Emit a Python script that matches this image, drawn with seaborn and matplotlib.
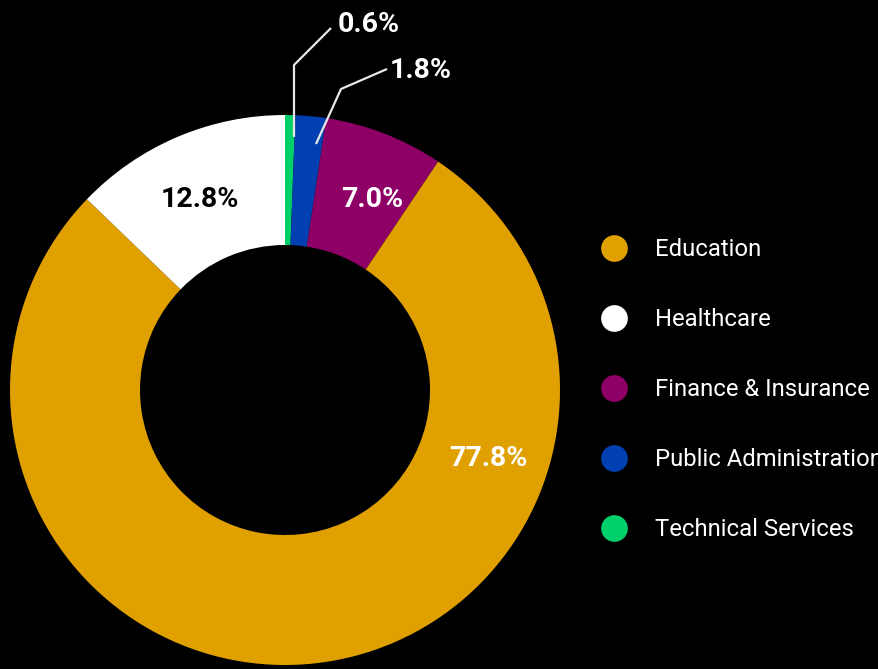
import matplotlib
matplotlib.use("Agg")
import matplotlib.pyplot as plt
import seaborn as sns

# Sector shares (%), listed in legend order
sectors = ["Education", "Healthcare", "Finance & Insurance",
           "Public Administration", "Technical Services"]
shares = [77.8, 12.8, 7.0, 1.8, 0.6]
palette = sns.color_palette(["#E0A000", "#FFFFFF", "#8F0066", "#0040B0", "#00D06C"])

sns.set_theme(style="dark", rc={"figure.facecolor": "black", "axes.facecolor": "black"})
plt.rcParams["font.family"] = ["Roboto", "DejaVu Sans"]

W, H = 879, 669
fig = plt.figure(figsize=(W / 100, H / 100), dpi=100)
ax = fig.add_axes([0, 0, 1, 1])


def py(y):
    # pixel row (from the top) -> axes y
    return H - y


# Wedges clockwise from 12 o'clock: Technical, Public, Finance, Education, Healthcare
ring_order = [4, 3, 2, 0, 1]
cx, cy, R, ring = 285, 390, 275, 130
ax.pie([shares[i] for i in ring_order],
       colors=[palette[i] for i in ring_order],
       startangle=90, counterclock=False,
       center=(cx, py(cy)), radius=R,
       wedgeprops=dict(width=ring, linewidth=0), frame=True)
ax.set_xlim(0, W)
ax.set_ylim(0, H)
ax.set_aspect("equal")
ax.axis("off")

label_font = dict(fontsize=20.5, fontweight="bold", family=["Roboto", "DejaVu Sans"])

# In-ring labels: (share index, x, y, colour)
inner = [(1, 200, 200, "black"), (2, 372, 200, "white"), (0, 488, 458, "white")]
for i, x, y, c in inner:
    ax.text(x, py(y), f"{shares[i]:.1f}%", color=c, ha="center", va="center", **label_font)

# Outside labels with leader lines
outer = [
    (4, [(294, 137), (294, 65), (331, 28)], (338, 24)),
    (3, [(316, 144), (341, 89), (387, 69)], (390, 70)),
]
for i, pts, (tx, ty) in outer:
    ax.plot([p[0] for p in pts], [py(p[1]) for p in pts], color="#E8E8E8", lw=1.6,
            solid_capstyle="butt")
    ax.text(tx, py(ty), f"{shares[i]:.1f}%", color="white", ha="left", va="center",
            **label_font)

# Legend
for k, (name, col) in enumerate(zip(sectors, palette)):
    y = 248 + k * 70
    ax.scatter([614], [py(y)], s=370, color=col, linewidths=0, zorder=3)
    ax.text(655, py(y + 1.5), name, color="white", ha="left", va="center", fontsize=17.2)

fig.savefig("out.png", dpi=100, facecolor="black")
